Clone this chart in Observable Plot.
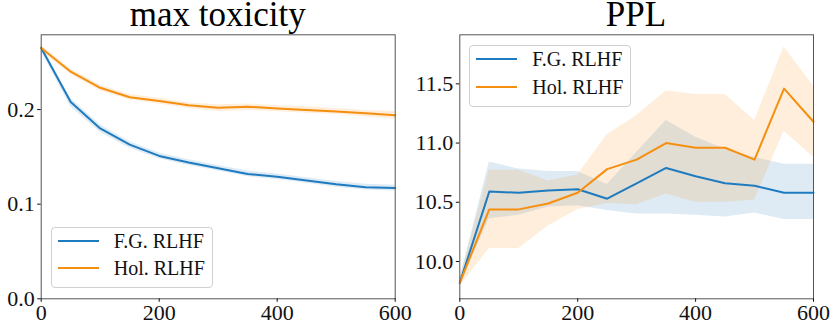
<!DOCTYPE html>
<html>
<head>
<meta charset="utf-8">
<script src="https://cdn.jsdelivr.net/npm/d3@7"></script>
<script src="https://cdn.jsdelivr.net/npm/@observablehq/plot@0.6"></script>
<style>
  html, body { margin: 0; padding: 0; background: #fff; }
  #wrap { position: relative; width: 830px; height: 324px; overflow: hidden; font-family: "Liberation Serif", "Times New Roman", Times, "DejaVu Serif", serif; }
  #wrap svg, #wrap svg text { font-family: "Liberation Serif", "Times New Roman", Times, "DejaVu Serif", serif !important; }
  .panel { position: absolute; top: 0; }
  .title { position: absolute; font-size: 35px; line-height: 29px; height: 29px; white-space: nowrap; transform: translateX(-50%); color: #000; }
  .legend { position: absolute; border: 1px solid #d0d0d0; border-radius: 4px; background: rgba(255,255,255,0.85); box-sizing: border-box; }
  .legend .row { position: absolute; left: 0; height: 0; }
  .legend .row svg { position: absolute; overflow: visible; }
  .legend .row span { position: absolute; font-size: 20px; line-height: 1; white-space: nowrap; transform: translateY(-50%); color: #111; }
</style>
</head>
<body>
<div id="wrap"></div>
<script>
// ---- data ----
const steps = [0, 50, 100, 150, 200, 250, 300, 350, 400, 450, 500, 550, 600];
const seriesNames = ["F.G. RLHF", "Hol. RLHF"];
const seriesColors = ["#1f7bbf", "#f58f10"];

// max toxicity
const toxFG     = [0.265, 0.208, 0.180, 0.163, 0.151, 0.144, 0.138, 0.132, 0.129, 0.125, 0.121, 0.118, 0.117];
const toxFGLo   = [0.262, 0.203, 0.176, 0.159, 0.148, 0.141, 0.135, 0.129, 0.126, 0.122, 0.118, 0.115, 0.114];
const toxFGHi   = [0.268, 0.212, 0.184, 0.166, 0.154, 0.147, 0.141, 0.135, 0.132, 0.128, 0.124, 0.121, 0.120];
const toxHol    = [0.265, 0.240, 0.223, 0.213, 0.209, 0.2045, 0.202, 0.203, 0.201, 0.1995, 0.198, 0.196, 0.194];
const toxHolLo  = [0.262, 0.237, 0.220, 0.210, 0.206, 0.201, 0.198, 0.199, 0.198, 0.196, 0.195, 0.192, 0.190];
const toxHolHi  = [0.268, 0.243, 0.226, 0.216, 0.212, 0.207, 0.205, 0.206, 0.204, 0.203, 0.201, 0.199, 0.198];

// PPL
const pplFG     = [9.82, 10.59, 10.58, 10.60, 10.61, 10.53, 10.66, 10.79, 10.72, 10.66, 10.64, 10.58, 10.58];
const pplFGLo   = [9.80, 10.36, 10.39, 10.46, 10.47, 10.43, 10.40, 10.40, 10.39, 10.375, 10.41, 10.355, 10.355];
const pplFGHi   = [9.85, 10.84, 10.78, 10.76, 10.76, 10.65, 10.92, 11.19, 11.05, 10.95, 10.88, 10.82, 10.82];
const pplHol    = [9.82, 10.44, 10.44, 10.49, 10.58, 10.78, 10.86, 11.00, 10.96, 10.96, 10.86, 11.46, 11.18];
const pplHolLo  = [9.79, 10.11, 10.11, 10.30, 10.44, 10.49, 10.48, 10.57, 10.50, 10.50, 10.52, 11.10, 10.88];
const pplHolHi  = [9.85, 10.77, 10.77, 10.68, 10.73, 11.07, 11.23, 11.44, 11.41, 11.41, 11.19, 11.81, 11.48];

const xTicks = [0, 200, 400, 600];
const toxTicks = [0.0, 0.1, 0.2];
const pplTicks = [10.0, 10.5, 11.0, 11.5];

// ---- helpers ----
const FONT = "'Liberation Serif', 'Times New Roman', Times, 'DejaVu Serif', serif";

function tidy(mean, lo, hi, name) {
  return steps.map((s, i) => ({step: s, v: mean[i], lo: lo[i], hi: hi[i], series: name}));
}

function makePanel(cfg) {
  const data = [
    ...tidy(cfg.fg, cfg.fgLo, cfg.fgHi, seriesNames[0]),
    ...tidy(cfg.hol, cfg.holLo, cfg.holHi, seriesNames[1])
  ];
  return Plot.plot({
    width: 415,
    height: 324,
    marginLeft: cfg.ml,
    marginRight: cfg.mr,
    marginTop: 34.3,
    marginBottom: 25.7,
    style: {fontFamily: FONT, fontSize: "22px", color: "#111", background: "transparent", overflow: "visible"},
    x: {domain: [0, 600]},
    y: {domain: cfg.yDomain},
    color: {domain: seriesNames, range: seriesColors},
    marks: [
      Plot.areaY(data, {x: "step", y1: "lo", y2: "hi", z: "series", fill: "series", fillOpacity: 0.15, curve: "linear"}),
      Plot.lineY(data, {x: "step", y: "v", z: "series", stroke: "series", strokeWidth: 2, curve: "linear"}),
      Plot.frame({stroke: "#555", strokeWidth: 1}),
      Plot.axisX({ticks: xTicks, tickSize: 3.5, tickPadding: 2, tickFormat: d3.format("d"), label: null, fontSize: 22, fontFamily: FONT}),
      Plot.axisY({ticks: cfg.yTicks, tickSize: 3.5, tickPadding: 3, tickFormat: d3.format(".1f"), label: null, fontSize: 22, fontFamily: FONT})
    ]
  });
}

function addLegend(wrap, box) {
  const lg = document.createElement("div");
  lg.className = "legend";
  lg.style.left = box.x + "px"; lg.style.top = box.y + "px";
  lg.style.width = box.w + "px"; lg.style.height = box.h + "px";
  seriesNames.forEach((name, i) => {
    const row = document.createElement("div");
    row.className = "row";
    row.style.top = (box.rows[i] - box.y - 1) + "px";
    const svg = document.createElementNS("http://www.w3.org/2000/svg", "svg");
    svg.setAttribute("width", 42); svg.setAttribute("height", 4);
    svg.style.left = (box.lineX - box.x - 1) + "px"; svg.style.top = "-2px";
    const ln = document.createElementNS("http://www.w3.org/2000/svg", "line");
    ln.setAttribute("x1", 0); ln.setAttribute("x2", 41); ln.setAttribute("y1", 2); ln.setAttribute("y2", 2);
    ln.setAttribute("stroke", seriesColors[i]); ln.setAttribute("stroke-width", 2);
    svg.appendChild(ln);
    const sp = document.createElement("span");
    sp.textContent = name;
    sp.style.left = (box.textX - box.x - 1) + "px";
    row.appendChild(svg); row.appendChild(sp);
    lg.appendChild(row);
  });
  wrap.appendChild(lg);
}

function addTitle(wrap, text, cx) {
  const t = document.createElement("div");
  t.className = "title";
  t.textContent = text;
  t.style.left = cx + "px";
  t.style.top = "0px";
  wrap.appendChild(t);
}

const wrap = document.getElementById("wrap");

const left = makePanel({fg: toxFG, fgLo: toxFGLo, fgHi: toxFGHi, hol: toxHol, holLo: toxHolLo, holHi: toxHolHi,
  ml: 40.7, mr: 20.3, yDomain: [0, 0.279], yTicks: toxTicks});
left.classList.add("panel"); left.style.left = "0px"; left.style.position = "absolute";
wrap.appendChild(left);

const right = makePanel({fg: pplFG, fgLo: pplFGLo, fgHi: pplFGHi, hol: pplHol, holLo: pplHolLo, holHi: pplHolHi,
  ml: 44.3, mr: 17, yDomain: [9.685, 11.914], yTicks: pplTicks});
right.classList.add("panel"); right.style.left = "415px"; right.style.position = "absolute";
wrap.appendChild(right);

addTitle(wrap, "max toxicity", 217.7);
addTitle(wrap, "PPL", 636);

addLegend(wrap, {x: 50.7, y: 226.7, w: 162, h: 61.6, rows: [240.7, 268.3], lineX: 58, textX: 113.7});
addLegend(wrap, {x: 469.3, y: 45, w: 161.7, h: 61.7, rows: [59.3, 87.3], lineX: 476, textX: 532.3});
</script>
</body>
</html>
